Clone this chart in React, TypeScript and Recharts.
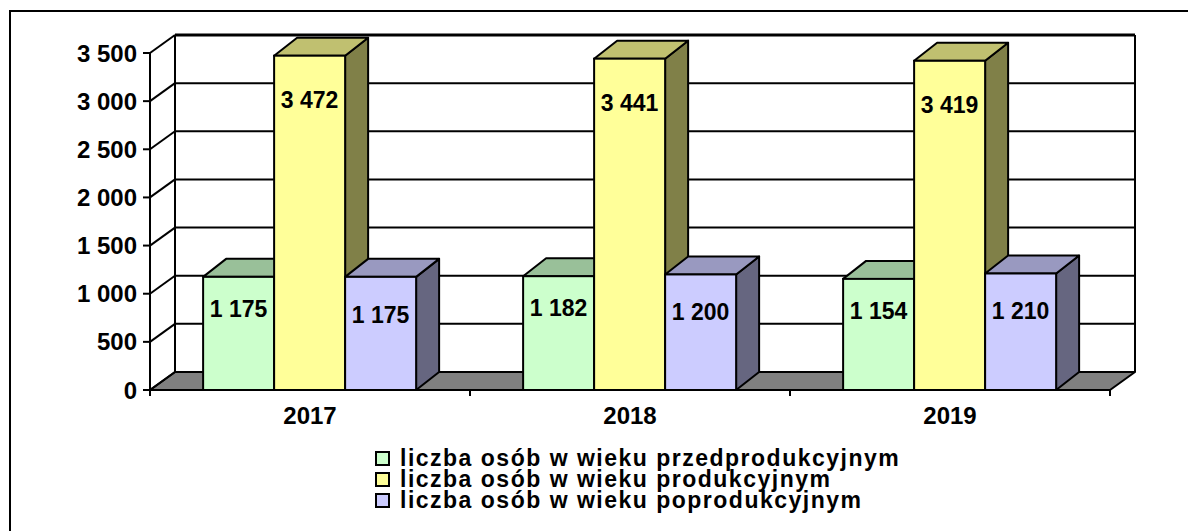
import React from 'react';
import { BarChart, Bar, XAxis, YAxis, CartesianGrid, LabelList, Legend } from 'recharts';

// ---- data ----
const years = ['2017', '2018', '2019'];
const preProductive = [1175, 1182, 1154];
const productive = [3472, 3441, 3419];
const postProductive = [1175, 1200, 1210];
const seriesNames = [
  'liczba osób w wieku przedprodukcyjnym',
  'liczba osób w wieku produkcyjnym',
  'liczba osób w wieku poprodukcyjnym',
];
const yTicks = [0, 500, 1000, 1500, 2000, 2500, 3000, 3500];

const data = years.map((year, i) => ({
  year,
  pre: preProductive[i],
  prod: productive[i],
  post: postProductive[i],
}));

// ---- style ----
const FONT = '"Liberation Sans", Arial, Helvetica, sans-serif';
const WALL_DX = 25;
const WALL_DY = -18;
const BAR_DX = 23;
const BAR_DY = -18;

type Pal = { front: string; top: string; side: string };
const palPre: Pal = { front: '#CCFFCC', top: '#99C099', side: '#669966' };
const palProd: Pal = { front: '#FFFF99', top: '#C0C070', side: '#808048' };
const palPost: Pal = { front: '#CCCCFF', top: '#9999C0', side: '#666680' };
const palettes = [palPre, palProd, palPost];

const fmt = (v: any) => String(v).replace(/\B(?=(\d{3})+(?!\d))/g, ' ');

const make3DBar = (pal: Pal) => (props: any) => {
  const { x, y, width, height } = props;
  if (x == null || y == null || !width || height == null) return <g />;
  const top = `${x},${y} ${x + BAR_DX},${y + BAR_DY} ${x + width + BAR_DX},${y + BAR_DY} ${x + width},${y}`;
  const side = `${x + width},${y} ${x + width + BAR_DX},${y + BAR_DY} ${x + width + BAR_DX},${y + height + BAR_DY} ${x + width},${y + height}`;
  return (
    <g>
      <polygon points={side} fill={pal.side} stroke="#000" strokeWidth={2} strokeLinejoin="round" />
      <polygon points={top} fill={pal.top} stroke="#000" strokeWidth={2} strokeLinejoin="round" />
      <rect x={x} y={y} width={width} height={height} fill={pal.front} stroke="#000" strokeWidth={2} />
    </g>
  );
};

const makeLabel = (offset: number) => (props: any) => {
  const vb = props.viewBox || {};
  const x = props.x ?? vb.x;
  const y = props.y ?? vb.y;
  const width = props.width ?? vb.width;
  if (x == null || y == null) return null;
  return (
    <text
      x={x + width / 2}
      y={y + offset}
      textAnchor="middle"
      dominantBaseline="central"
      fontSize={23}
      fontWeight={700}
      fontFamily={FONT}
      fill="#000"
    >
      {fmt(props.value)}
    </text>
  );
};

const gridLine = (props: any) => {
  const { x1, y1, x2, index, x, y, width, height } = props;
  const bx1 = x1 + WALL_DX;
  const bx2 = x2 + WALL_DX;
  const by = y1 + WALL_DY;
  const isTop = Math.abs(y1 - y) < 0.5;
  const yb = y + height;
  return (
    <g key={`gl-${index}`}>
      {index === 0 && (
        <g>
          <polygon
            points={`${x},${yb} ${x + width},${yb} ${x + width + WALL_DX},${yb + WALL_DY} ${x + WALL_DX},${yb + WALL_DY}`}
            fill="#808080"
            stroke="#000"
            strokeWidth={2}
            strokeLinejoin="round"
          />
          <line x1={x + WALL_DX} y1={y + WALL_DY} x2={x + WALL_DX} y2={yb + WALL_DY} stroke="#000" strokeWidth={2} />
          <line x1={x + width + WALL_DX} y1={y + WALL_DY} x2={x + width + WALL_DX} y2={yb + WALL_DY} stroke="#000" strokeWidth={2} />
        </g>
      )}
      <line x1={x1} y1={y1} x2={bx1} y2={by} stroke="#000" strokeWidth={2} />
      <line x1={bx1} y1={by} x2={bx2} y2={by} stroke="#000" strokeWidth={isTop ? 3 : 2} />
    </g>
  );
};

const renderXTick = (props: any) => {
  const { x, y, payload, index, visibleTicksCount, width } = props;
  const half = payload && payload.offset ? payload.offset : width / (visibleTicksCount || 3) / 2;
  const axisY = y - 6;
  const last = index === (visibleTicksCount || 3) - 1;
  return (
    <g>
      <line x1={x - half} y1={axisY} x2={x - half} y2={axisY + 6} stroke="#000" strokeWidth={2} />
      {last && <line x1={x + half} y1={axisY} x2={x + half} y2={axisY + 6} stroke="#000" strokeWidth={2} />}
      <text x={x} y={y + 28} textAnchor="middle" fontSize={24} fontWeight={700} fontFamily={FONT} fill="#000">
        {payload.value}
      </text>
    </g>
  );
};

const renderLegend = (props: any) => {
  const payload: any[] = props && props.payload && props.payload.length ? props.payload : [];
  let items = payload.length
    ? payload.map((p: any) => ({ name: String(p.value), color: p.color }))
    : seriesNames.map((n, i) => ({ name: n, color: palettes[i].front }));
  items = items.slice().sort((a, b) => seriesNames.indexOf(a.name) - seriesNames.indexOf(b.name));
  return (
    <div style={{ fontFamily: FONT, fontWeight: 700, fontSize: 23, lineHeight: '21px', color: '#000', whiteSpace: 'nowrap', letterSpacing: '1.5px' }}>
      {items.map((it, i) => (
        <div key={i}>
          <span
            style={{
              display: 'inline-block',
              width: 11,
              height: 11,
              border: '2px solid #000',
              background: it.color,
              marginRight: 10,
              verticalAlign: 'baseline',
            }}
          />
          {it.name}
        </div>
      ))}
    </div>
  );
};

export default function App() {
  return (
    <div style={{ position: 'absolute', left: 0, top: 0, width: 1188, height: 531, overflow: 'hidden', background: '#fff' }}>
      <div
        style={{
          position: 'absolute',
          left: 9,
          top: 10,
          width: 1400,
          height: 800,
          border: '2px solid #000',
        }}
      />
      <div style={{ position: 'absolute', left: 0, top: 0 }}>
        <BarChart
          width={1188}
          height={531}
          data={data}
          margin={{ top: 53, right: 78, bottom: 101, left: 80 }}
          barCategoryGap="16.6%"
          barGap={0}
        >
          <CartesianGrid vertical={false} horizontal={gridLine} />
          <XAxis
            dataKey="year"
            axisLine={{ stroke: '#000', strokeWidth: 2 }}
            tickLine={false}
            tickSize={6}
            tickMargin={0}
            tick={renderXTick}
            height={40}
            interval={0}
          />
          <YAxis
            type="number"
            domain={[0, 3500]}
            ticks={yTicks}
            interval={0}
            tickFormatter={fmt}
            axisLine={{ stroke: '#000', strokeWidth: 2 }}
            tickLine={{ stroke: '#000', strokeWidth: 2 }}
            tickSize={7}
            tickMargin={6}
            tick={{ fill: '#000', fontSize: 24, fontWeight: 700, fontFamily: FONT }}
            width={70}
          />
          <Legend
            layout="vertical"
            align="center"
            verticalAlign="middle"
            wrapperStyle={{ left: 375, top: 448, width: 700, height: 'auto' }}
            content={renderLegend}
          />
          <Bar dataKey="pre" name={seriesNames[0]} fill={palPre.front} shape={make3DBar(palPre)} isAnimationActive={false}>
            <LabelList dataKey="pre" content={makeLabel(32)} />
          </Bar>
          <Bar dataKey="prod" name={seriesNames[1]} fill={palProd.front} shape={make3DBar(palProd)} isAnimationActive={false}>
            <LabelList dataKey="prod" content={makeLabel(44)} />
          </Bar>
          <Bar dataKey="post" name={seriesNames[2]} fill={palPost.front} shape={make3DBar(palPost)} isAnimationActive={false}>
            <LabelList dataKey="post" content={makeLabel(38)} />
          </Bar>
        </BarChart>
      </div>
    </div>
  );
}
